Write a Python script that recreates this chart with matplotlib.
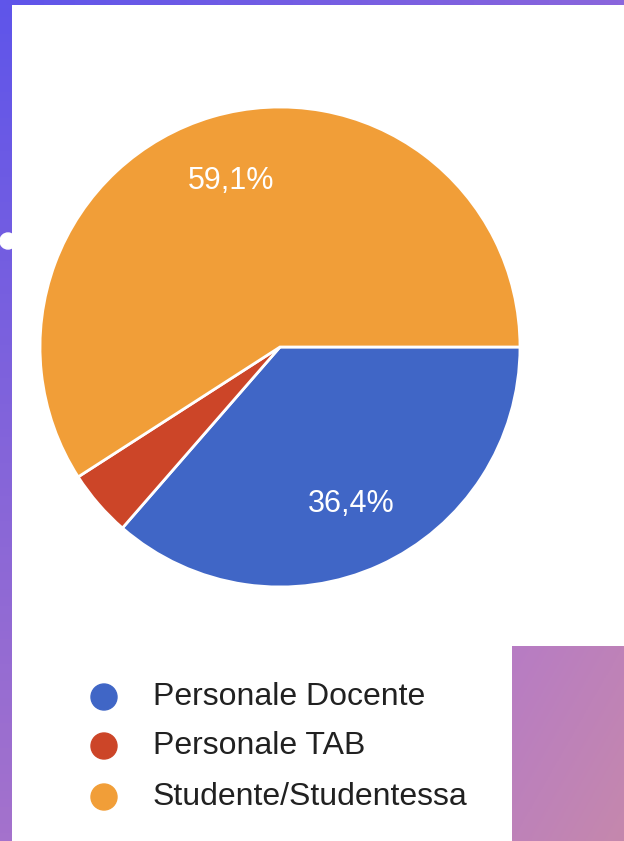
import numpy as np
import matplotlib
matplotlib.use('Agg')
import matplotlib.pyplot as plt
from matplotlib.colors import LinearSegmentedColormap

# Data
categories = ['Personale Docente', 'Personale TAB', 'Studente/Studentessa']
shares = [36.4, 4.5, 59.1]
pct_labels = ['36,4%', '', '59,1%']
colors = ['#4066c6', '#cc4528', '#f19e38']

W, H = 624, 841
fig = plt.figure(figsize=(W / 100, H / 100), dpi=100)

# background (purple frame + pink block), in pixel coords
bg = fig.add_axes([0, 0, 1, 1])
bg.set_xlim(0, W)
bg.set_ylim(H, 0)
bg.axis('off')

# left band gradient (top -> bottom)
left_cmap = LinearSegmentedColormap.from_list('l', ['#5f55ea', '#a472cc'])
bg.imshow(np.linspace(0, 1, 100).reshape(-1, 1), cmap=left_cmap, aspect='auto',
          extent=[0, 12, H, 0], zorder=1)
# top band gradient (left -> right)
top_cmap = LinearSegmentedColormap.from_list('t', ['#5f55ea', '#8a66dc'])
bg.imshow(np.linspace(0, 1, 100).reshape(1, -1), cmap=top_cmap, aspect='auto',
          extent=[0, W, 5, 0], zorder=1)
# pink block bottom right
gx, gy = np.meshgrid(np.linspace(0, 1, 50), np.linspace(0, 1, 80))
pink_cmap = LinearSegmentedColormap.from_list('p', ['#b77cc4', '#c588ad'])
bg.imshow((gx + gy) / 2, cmap=pink_cmap, aspect='auto',
          extent=[512, W, H, 646], zorder=1)
# little white dot on the left edge
bg.add_patch(plt.Circle((8, 241), 8, color='white', zorder=2))

# pie
ax = fig.add_axes([40 / W, 1 - 587 / H, 480 / W, 480 / H])
wedges, texts = ax.pie(shares, colors=colors, startangle=0, counterclock=False,
                       labels=pct_labels, labeldistance=0.72,
                       wedgeprops={'edgecolor': 'white', 'linewidth': 2},
                       textprops={'color': 'white', 'fontsize': 22,
                                  'family': 'Liberation Sans'})
for t in texts:
    t.set_ha('center')
    t.set_va('center')
ax.set_xlim(-1, 1)
ax.set_ylim(-1, 1)
ax.set_aspect('equal')

# legend drawn by hand
leg_y = [697, 746, 797]
for i in range(len(categories)):
    bg.add_patch(plt.Circle((104, leg_y[i]), 13, color=colors[i], zorder=3))
    bg.text(153, leg_y[i], categories[i], fontsize=23, family='Liberation Sans',
            color='#212121', va='center', ha='left', zorder=3)

fig.savefig('out.png', dpi=100, facecolor='white')
